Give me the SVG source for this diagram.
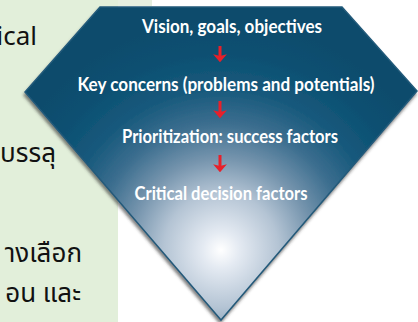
<svg xmlns="http://www.w3.org/2000/svg" width="418" height="322" viewBox="0 0 418 322">
<style>
.lbl{font-family:Lato,"Open Sans","Liberation Sans",sans-serif;font-weight:700;font-size:18px;fill:#ffffff;text-anchor:middle}
.th{font-family:"Noto Sans","Noto Sans Thai","DejaVu Sans",sans-serif;font-size:26px;fill:#111111;text-anchor:end}
.arr{stroke:#e8202a;stroke-width:3;fill:none}
</style>
<defs>
<radialGradient id="gem" gradientUnits="userSpaceOnUse" cx="221" cy="250" r="230">
<stop offset="0" stop-color="#ffffff"/>
<stop offset="0.08" stop-color="#e4eaf2"/>
<stop offset="0.25" stop-color="#b4c4d4"/>
<stop offset="0.4" stop-color="#7594ad"/>
<stop offset="0.55" stop-color="#3c6e8f"/>
<stop offset="0.7" stop-color="#17597c"/>
<stop offset="0.85" stop-color="#0c5072"/>
<stop offset="1" stop-color="#0a4c6c"/>
</radialGradient>
<filter id="sh" x="-10%" y="-10%" width="120%" height="120%">
<feDropShadow dx="-1" dy="3" stdDeviation="1.5" flood-color="#333" flood-opacity="0.6"/>
</filter>
<marker id="ah" markerWidth="2.7" markerHeight="4.6" refX="0.6" refY="2.3" orient="auto" markerUnits="strokeWidth">
<path d="M0,0 L2.7,2.3 L0,4.6 L0.6,2.3 Z" fill="#e8202a"/>
</marker>
</defs>
<g id="panel">
<rect x="0" y="0" width="118" height="322" fill="#e2efda"/>
<rect x="118" y="0" width="34" height="6" fill="#e6efe0"/>
<text class="th" x="37" y="45">ical</text>
<text class="th" x="56" y="162">บรรลุ</text>
<text class="th" x="82" y="262">างเลือก</text>
<text class="th" x="81" y="302">อน และ</text>
</g>
<g id="gem-shape">
<polygon points="100,7 342,7 417,91 221,320 25,92" fill="url(#gem)" stroke="#245a7a" stroke-width="1.5" filter="url(#sh)"/>
</g>
<g id="n1"><text class="lbl" x="232" y="33" textLength="180" lengthAdjust="spacingAndGlyphs">Vision, goals, objectives</text></g>
<g id="n2"><text class="lbl" x="226" y="91" textLength="297" lengthAdjust="spacingAndGlyphs">Key concerns (problems and potentials)</text></g>
<g id="n3"><text class="lbl" x="230" y="143" textLength="216" lengthAdjust="spacingAndGlyphs">Prioritization: success factors</text></g>
<g id="n4"><text class="lbl" x="221" y="200" textLength="173" lengthAdjust="spacingAndGlyphs">Critical decision factors</text></g>
<g id="connectors">
<line class="arr" x1="220" y1="46" x2="220" y2="56" marker-end="url(#ah)"/>
<line class="arr" x1="220" y1="101" x2="220" y2="112" marker-end="url(#ah)"/>
<line class="arr" x1="220" y1="155" x2="220" y2="166" marker-end="url(#ah)"/>
</g>
</svg>
